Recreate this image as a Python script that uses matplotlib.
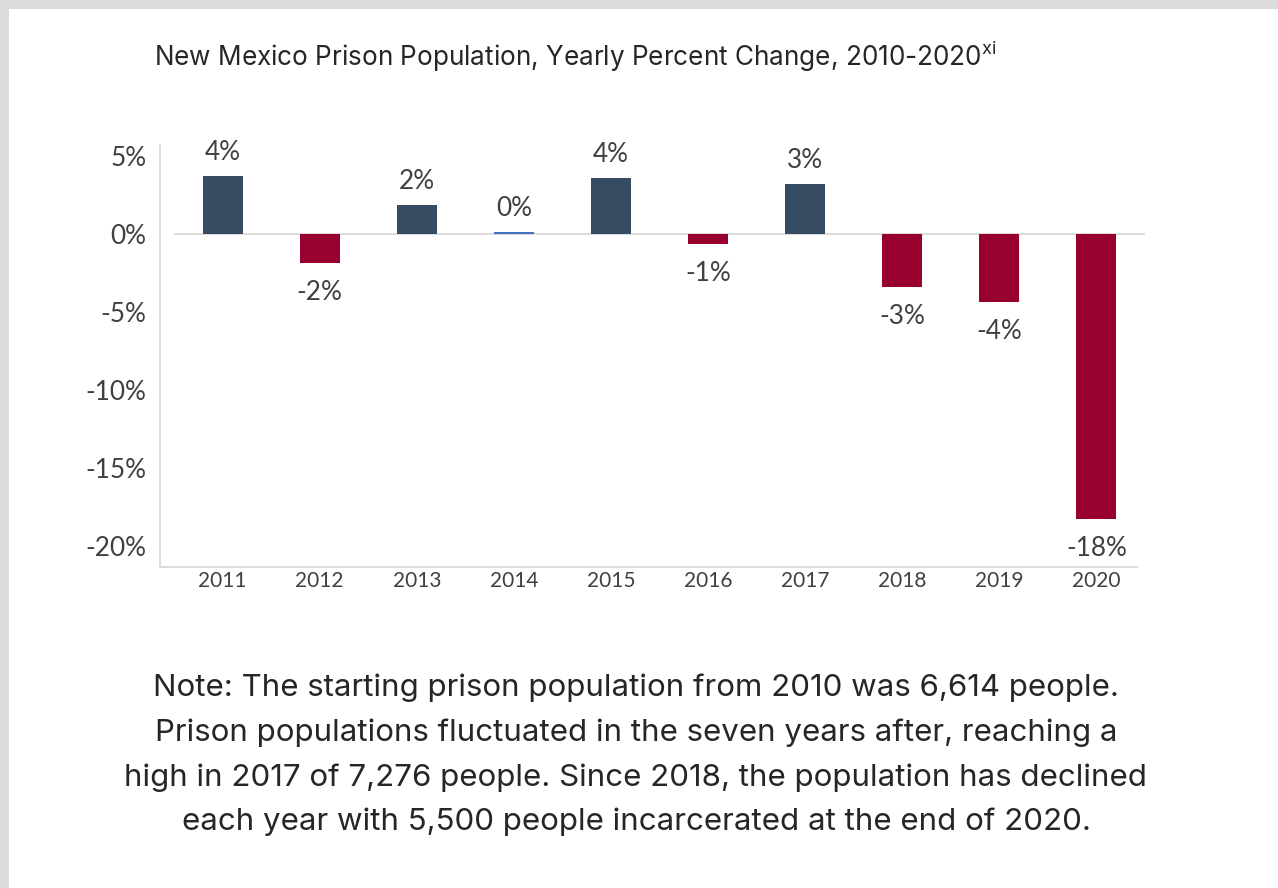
import matplotlib.pyplot as plt
from matplotlib.patches import Rectangle

years = ["2011", "2012", "2013", "2014", "2015", "2016", "2017", "2018", "2019", "2020"]
pct_change = [3.72, -1.88, 1.84, 0.15, 3.57, -0.66, 3.19, -3.38, -4.38, -18.27]
bar_labels = ["4%", "-2%", "2%", "0%", "4%", "-1%", "3%", "-3%", "-4%", "-18%"]
bar_colors = ["#364c63", "#98002e", "#364c63", "#4472c4", "#364c63",
              "#98002e", "#364c63", "#98002e", "#98002e", "#98002e"]
y_ticks = [5, 0, -5, -10, -15, -20]
y_tick_labels = ["5%", "0%", "-5%", "-10%", "-15%", "-20%"]

title = "New Mexico Prison Population, Yearly Percent Change, 2010-2020$^{\\mathregular{xi}}$"
note = ("Note: The starting prison population from 2010 was 6,614 people.\n"
        "Prison populations fluctuated in the seven years after, reaching a\n"
        "high in 2017 of 7,276 people. Since 2018, the population has declined\n"
        "each year with 5,500 people incarcerated at the end of 2020.")

W, H = 1278, 888
fig = plt.figure(figsize=(W / 100, H / 100), dpi=100)
fig.patch.set_facecolor("#dcdbdc")
# white panel (grey strip only on top and left)
fig.patches.append(Rectangle((9 / W, 0), 1, 1 - 9 / H, transform=fig.transFigure,
                             facecolor="white", edgecolor="none", zorder=-5))

chart_font = ["Lato", "DejaVu Sans"]
text_font = ["Inter", "DejaVu Sans"]
text_color = "#262626"
label_color = "#404040"

fig.text(575 / W, 1 - 56 / H, title, ha="center", va="center", fontsize=18.8,
         family=text_font, color=text_color)
fig.text(636 / W, 1 - 755 / H, note, ha="center", va="center", fontsize=22.5,
         family=text_font, color=text_color, linespacing=1.72)

# axes: x from 160 to 1145 px, y from 145 to 567 px
ax_left, ax_right, ax_top, ax_bottom = 160, 1145, 145, 567
ax = fig.add_axes([ax_left / W, 1 - ax_bottom / H, (ax_right - ax_left) / W, (ax_bottom - ax_top) / H])
ax.set_facecolor("none")

px_per_cat = (1145 - 174) / 10
x0 = -0.5 - (174 - 160) / px_per_cat
ax.set_xlim(x0, 9.5)
px_per_pct = 15.6
ax.set_ylim(-(567 - 234) / px_per_pct, (234 - 145) / px_per_pct)

x = range(len(years))
bar_w = 40 / px_per_cat
ax.bar(x, pct_change, width=bar_w, color=bar_colors, zorder=3)
ax.hlines(0, -0.5, 9.5, color="#d9d9d9", linewidth=1.3, zorder=2)

for i, (v, lab) in enumerate(zip(pct_change, bar_labels)):
    if v >= 0:
        ax.text(i, v + 1.5, lab, ha="center", va="center", fontsize=18.8,
                family=chart_font, color=label_color)
    else:
        ax.text(i, v - 1.9, lab, ha="center", va="center", fontsize=18.8,
                family=chart_font, color=label_color)

ax.set_yticks(y_ticks)
ax.set_yticklabels(y_tick_labels, family=chart_font, fontsize=18.8, color=label_color)
ax.set_xticks(list(x))
ax.set_xticklabels(years, family=chart_font, fontsize=15, color=label_color)
ax.tick_params(axis="both", length=0)
ax.tick_params(axis="y", pad=10)
ax.tick_params(axis="x", pad=3)

for side in ["top", "right"]:
    ax.spines[side].set_visible(False)
ax.spines["left"].set_color("#d9d9d9")
ax.spines["left"].set_linewidth(1.3)
ax.spines["bottom"].set_color("#d9d9d9")
ax.spines["bottom"].set_linewidth(1.3)
ax.spines["bottom"].set_bounds(x0, 9.5 - 8 / px_per_cat)

fig.savefig("out.png", dpi=100, facecolor=fig.get_facecolor())
